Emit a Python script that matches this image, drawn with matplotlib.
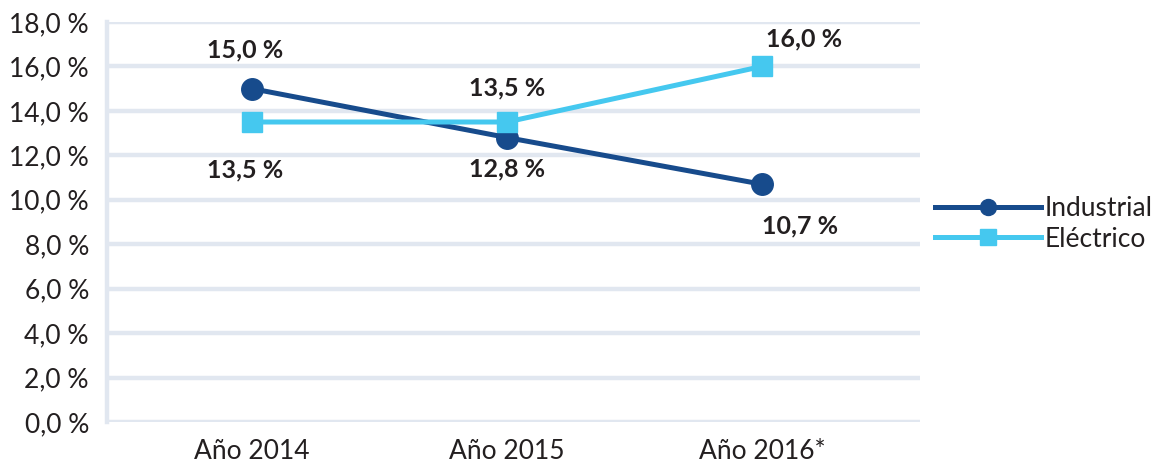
import matplotlib
matplotlib.use("Agg")
import matplotlib.pyplot as plt

categories = ["Año 2014", "Año 2015", "Año 2016*"]
industrial = [15.0, 12.8, 10.7]
electrico = [13.5, 13.5, 16.0]
industrial_labels = ["15,0 %", "12,8 %", "10,7 %"]
electrico_labels = ["13,5 %", "13,5 %", "16,0 %"]
yticks = [0, 2, 4, 6, 8, 10, 12, 14, 16, 18]

plt.rcParams['font.family'] = ['Lato', 'DejaVu Sans']

c_ind = "#174b8c"
c_ele = "#45c8ef"
grid_c = "#e1e7f0"
text_c = "#231f20"

fig = plt.figure(figsize=(11.64, 4.65), dpi=100)
ax = fig.add_axes([107/1164, 1-422/465, (920-107)/1164, (422-22)/465])

x = list(range(len(categories)))
ax.plot(x, industrial, color=c_ind, lw=3.6, marker='o', ms=15.5, label="Industrial", zorder=3)
ax.plot(x, electrico, color=c_ele, lw=3.6, marker='s', ms=14.5, label="Eléctrico", zorder=3)

ax.set_xlim(-0.569, 2.62)
ax.set_ylim(0, 18)
ax.set_yticks(yticks)
ax.set_yticklabels([f"{v:.1f}".replace('.', ',') + " %" for v in yticks])
ax.set_xticks(x)
ax.set_xticklabels(categories)
ax.tick_params(axis='both', length=0, labelsize=19, colors=text_c)
ax.tick_params(axis='y', pad=13)
ax.tick_params(axis='x', pad=12)

for s in ['top', 'right', 'bottom']:
    ax.spines[s].set_visible(False)
ax.spines['left'].set_color(grid_c)
ax.spines['left'].set_linewidth(3.2)
ax.grid(axis='y', color=grid_c, lw=3.2)
ax.set_axisbelow(True)

# data labels (offsets in pixels)
ind_off = [(-7, 39), (0, -31), (38, -42)]
ele_off = [(-7, -48), (0, 34), (42, 28)]
for i in x:
    dx, dy = ind_off[i]
    ax.annotate(industrial_labels[i], (i, industrial[i]), xytext=(dx, dy), textcoords='offset pixels',
                ha='center', va='center', fontsize=18, fontweight='bold', color=text_c)
    dx, dy = ele_off[i]
    ax.annotate(electrico_labels[i], (i, electrico[i]), xytext=(dx, dy), textcoords='offset pixels',
                ha='center', va='center', fontsize=18, fontweight='bold', color=text_c)

leg = ax.legend(loc='center left', bbox_to_anchor=(1.006, 0.495), frameon=False, fontsize=19,
                handlelength=4.0, handletextpad=0.15, labelspacing=0.2, borderaxespad=0,
                labelcolor=text_c)
for h in leg.legend_handles:
    h.set_markersize(11.5)

fig.savefig("out.png", dpi=100)
